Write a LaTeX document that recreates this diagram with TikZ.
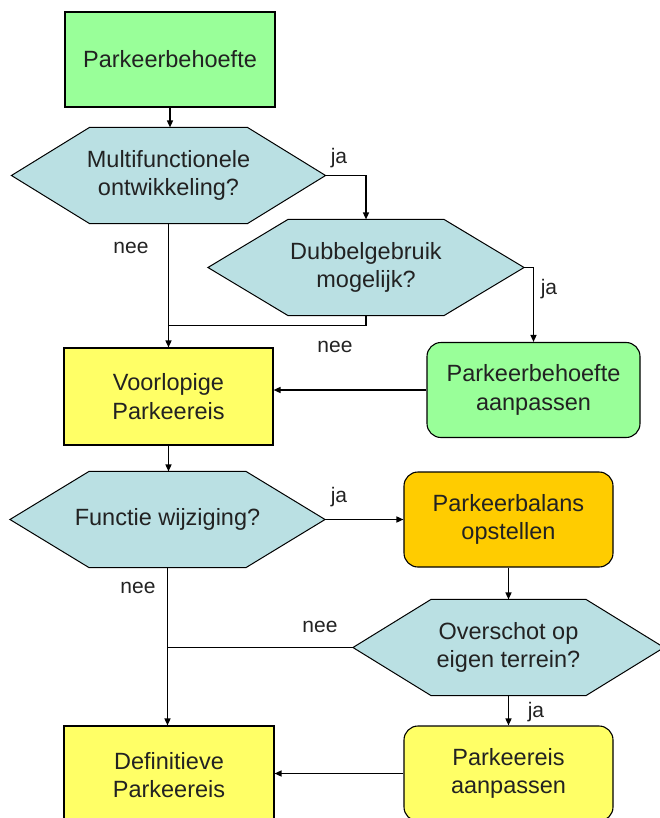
\documentclass[tikz,border=0pt]{standalone}
\usepackage{fontspec}
\setmainfont{Liberation Sans}
\usetikzlibrary{arrows.meta,calc,backgrounds}
\definecolor{boxgreen}{RGB}{153,255,153}
\definecolor{hexblue}{RGB}{186,224,227}
\definecolor{boxyellow}{RGB}{255,255,102}
\definecolor{boxorange}{RGB}{255,204,0}
\definecolor{txtgrey}{RGB}{34,34,34}

\tikzset{
  flowbox/.style={draw=black, line width=1.1pt, minimum height=95pt, inner sep=0pt,
    align=center, text=txtgrey, font=\fontsize{23.5}{28.5}\selectfont},
  roundbox/.style={flowbox, rounded corners=14pt},
  decision/.style={flowbox, draw=none},
  flowline/.style={line width=1.4pt},
  flowarrow/.style={flowline, -{Triangle[length=7pt,width=6pt]}},
  answer/.style={text=txtgrey, font=\fontsize{21}{25}\selectfont},
}
% hexagon round a decision node: node name, inset of the top edge
\newcommand{\hexoutline}[2]{%
  \draw[line width=1pt, fill=hexblue] (#1.west) -- ($(#1.north west)+(#2,0)$)
    -- ($(#1.north east)+(-#2,0)$) -- (#1.east) -- ($(#1.south east)+(-#2,0)$)
    -- ($(#1.south west)+(#2,0)$) -- cycle;}

\begin{document}
\begin{tikzpicture}[x=1pt,y=-1pt]
  \useasboundingbox (0,0) rectangle (660,818);
  \clip (0,0) rectangle (660,818);
  % boxes and questions
  \node[flowbox, fill=boxgreen, minimum width=210pt] (pb) at (170,59.5) {Parkeerbehoefte};
  \node[decision, minimum width=313pt] (mf) at (168.5,175.5) {Multifunctionele\\ontwikkeling?};
  \node[decision, minimum width=315pt] (db) at (366,267.5) {Dubbelgebruik\\mogelijk?};
  \node[flowbox, fill=boxyellow, minimum width=209pt, minimum height=97pt] (vp) at (168.5,396.5) {Voorlopige\\Parkeereis};
  \node[roundbox, fill=boxgreen, minimum width=213pt] (pa) at (533.5,390) {Parkeerbehoefte\\aanpassen};
  \node[decision, minimum width=314pt] (fw) at (167.5,519.5) {Functie wijziging?};
  \node[roundbox, fill=boxorange, minimum width=209pt] (bal) at (508.5,519.5) {Parkeerbalans\\opstellen};
  \node[decision, minimum width=310pt] (ov) at (508.5,647.5) {Overschot op\\eigen terrein?};
  \node[roundbox, fill=boxyellow, minimum width=209pt] (pe) at (508.5,773.5) {Parkeereis\\aanpassen};
  \node[flowbox, fill=boxyellow, minimum width=210pt, minimum height=98pt] (def) at (169,775) {Definitieve\\Parkeereis};
  \begin{scope}[on background layer]
    \hexoutline{mf}{78}
    \hexoutline{db}{80}
    \hexoutline{fw}{79}
    \hexoutline{ov}{78}
  \end{scope}
  % connectors
  \coordinate (j1) at ($(db.south)+(0,10)$);
  \draw[flowarrow] (pb.south) -- (pb.south |- mf.north);
  \draw[flowarrow] (mf.east) -| (db.north);
  \draw[flowarrow] (mf.south) -- (mf.south |- vp.north);
  \draw[flowline] (db.south) -- (j1) -- (j1 -| mf.south);
  \draw[flowarrow] (db.east) -| (pa.north);
  \draw[flowarrow] (pa.west) -- (pa.west -| vp.east);
  \draw[flowarrow] (vp.south) -- (vp.south |- fw.north);
  \draw[flowarrow] (fw.east) -- (bal.west);
  \draw[flowarrow] (bal.south) -- (ov.north);
  \draw[flowline] (ov.west) -- (ov.west -| fw.south);
  \draw[flowarrow] (fw.south) -- (fw.south |- def.north);
  \draw[flowarrow] (ov.south) -- (pe.north);
  \draw[flowarrow] (pe.west) -- (pe.west -| def.east);
  % answers
  \node[answer] (ja1) at (339,158) {ja};
  \node[answer] (nee1) at (131,248) {nee};
  \node[answer] (ja2) at (549,289) {ja};
  \node[answer] (nee2) at (335,347) {nee};
  \node[answer] (ja3) at (339,497) {ja};
  \node[answer] (nee3) at (138,588) {nee};
  \node[answer] (nee4) at (320,627) {nee};
  \node[answer] (ja4) at (536,712) {ja};
\end{tikzpicture}
\end{document}
